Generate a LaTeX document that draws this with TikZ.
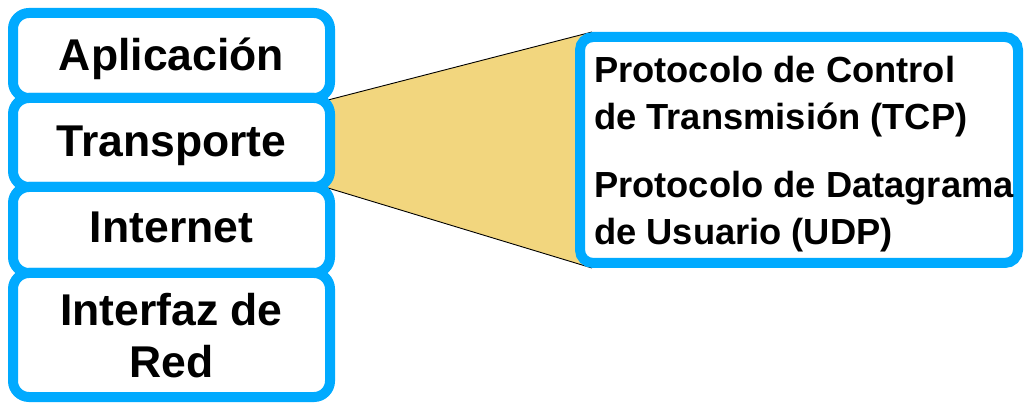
\documentclass[tikz,border=0pt]{standalone}
\usepackage{fontspec}
\setmainfont{Liberation Sans}
\usetikzlibrary{calc}
\definecolor{layerblue}{RGB}{0,170,255}
\definecolor{fanyellow}{RGB}{242,214,126}
\tikzset{
  layerbox/.style={draw=layerblue, line width=10pt, fill=white, rounded corners=16pt,
    inner sep=0pt, minimum width=317pt},
  protobox/.style={draw=layerblue, line width=10pt, fill=white, rounded corners=13pt,
    inner sep=0pt, minimum width=438pt, minimum height=226pt},
  layertext/.style={anchor=base, inner sep=0pt, font=\fontsize{44.5}{52}\selectfont\bfseries, align=center},
  prototext/.style={anchor=base west, inner sep=0pt, font=\fontsize{36.3}{47}\selectfont\bfseries},
  fanedge/.style={draw=black, line width=0.9pt}
}
\begin{document}
\begin{tikzpicture}[x=1pt,y=-1pt]
  \useasboundingbox (0,0) rectangle (1025,403);

  % widening band from the transport layer to its protocols
  \coordinate (fanTL) at (328,100);
  \coordinate (fanBL) at (328,188);
  \coordinate (fanTR) at (592,32);
  \coordinate (fanBR) at (592,268);
  \fill[fanyellow] (fanTL) -- (fanTR) -- (fanBR) -- (fanBL) -- cycle;
  \draw[fanedge] (fanTL) -- (fanTR);
  \draw[fanedge] (fanBL) -- (fanBR);

  % protocol stack layers
  \node[layerbox, minimum height=85pt] (app) at (171.5,55.5) {};
  \node[layerbox, minimum height=89pt] (trans) at (171.5,142.5) {};
  \node[layerbox, minimum height=86pt] (inet) at (171.5,230) {};
  \node[layerbox, minimum height=124pt] (net) at (171.5,335) {};

  \node[layertext] (appT) at (171.5,71) {Aplicación};
  \node[layertext] (transT) at (171.5,157) {Transporte};
  \node[layertext] (inetT) at (171.5,243) {Internet};
  \node[layertext] (netT1) at (171.5,325) {Interfaz de};
  \node[layertext] (netT2) at (171.5,377) {Red};

  % transport protocols
  \node[protobox] (proto) at (799,150) {};
  \node[prototext] (tcp1) at (594,83) {Protocolo de Control};
  \node[prototext] (tcp2) at (594,130) {de Transmisión (TCP)};
  \node[prototext] (udp1) at (594,198) {Protocolo de Datagrama};
  \node[prototext] (udp2) at (594,245) {de Usuario (UDP)};
\end{tikzpicture}
\end{document}
